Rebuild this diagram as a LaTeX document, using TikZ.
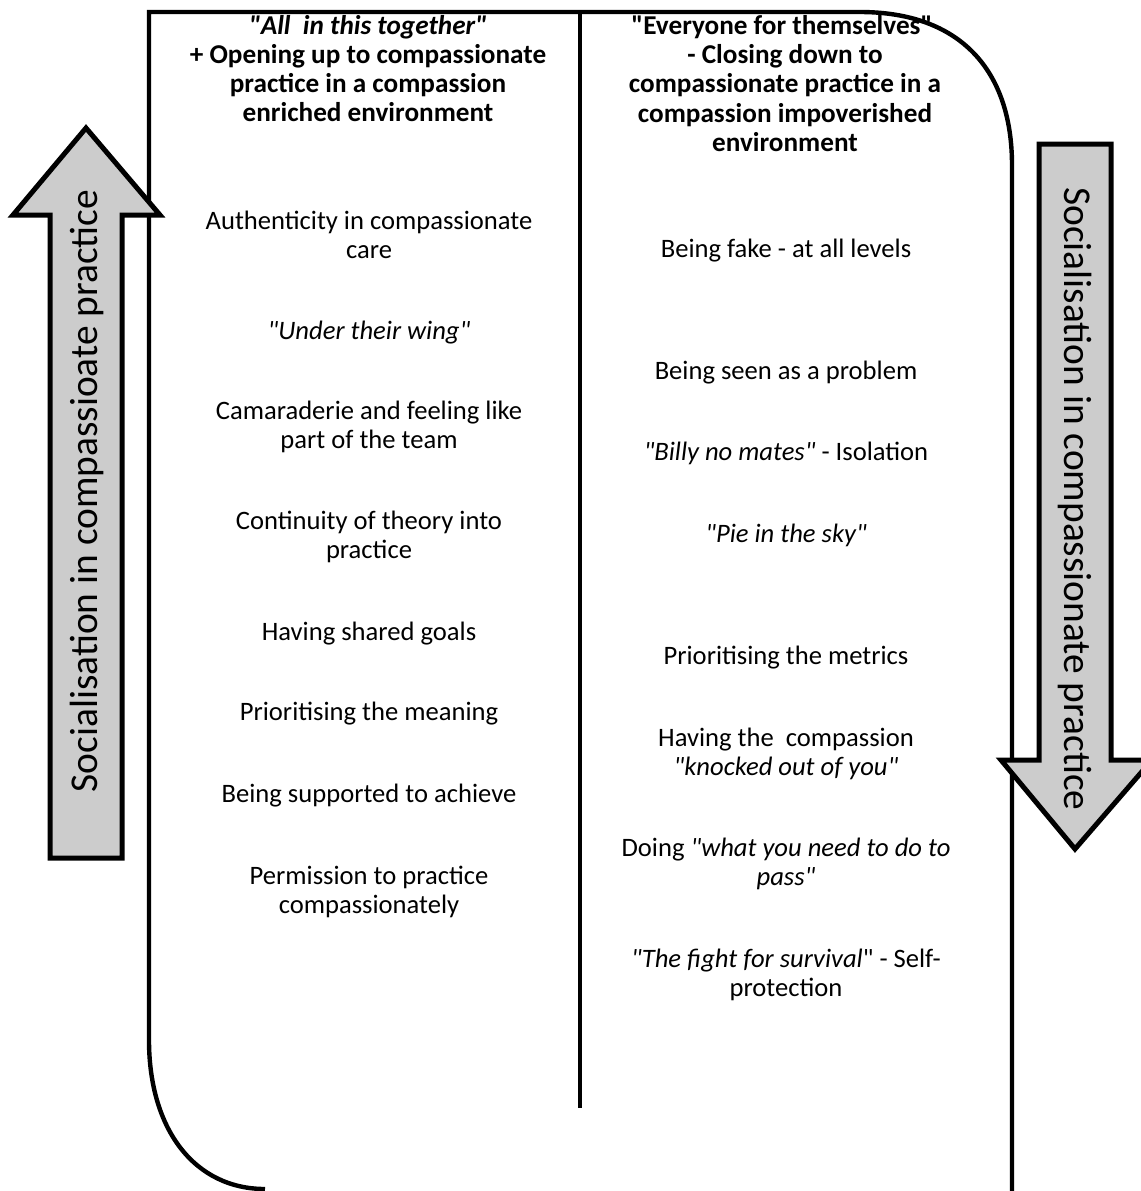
\documentclass[tikz,border=0pt]{standalone}
\usepackage{fontspec}
\setmainfont{Carlito}[Ligatures=TeXOff]
\usepackage{tikz}
\usetikzlibrary{positioning,calc}

\begin{document}
\begin{tikzpicture}[x=0.5pt, y=-0.5pt,
        item/.style={inner sep=0pt, font=\fontsize{13.3}{14.7}\selectfont, align=center},
        head/.style={item, font=\fontsize{13.6}{14.7}\selectfont\bfseries},
        side/.style={inner sep=0pt, font=\fontsize{19.7}{22}\selectfont},
        frame/.style={draw=black, line width=2.2pt},
        bigarrow/.style={draw=black, line width=2.5pt, fill=black!20, line join=miter},
      ]
      \useasboundingbox (0,0) rectangle (1141,1191);
      % outer frame and divider
      \draw [frame] (265,1189) .. controls (195,1189) and (149,1130) .. (149,1040) -- (149,12)
        -- (860,12) .. controls (960,12) and (1012,70) .. (1012,165) -- (1012,1195);
      \draw [frame] (580,12) -- (580,1108);
      % side arrows
      \draw [bigarrow] (50,858) -- (50,215) -- (13,215) -- (86,128) -- (160,215) -- (122,215) -- (122,858) -- cycle;
      \draw [bigarrow] (1039,144) -- (1111,144) -- (1111,760) -- (1152,760) -- (1075,849) -- (1001,760) -- (1039,760) -- cycle;
      \node [side, rotate=90] (upl) at (87,491) {Socialisation in compassioate practice};
      \node [side, rotate=-90] (downl) at (1075,499) {Socialisation in compassionate practice};
      % left column
      \node [head] (lhead) at (368,27) {\textit{"All\ \ in this together"}};
      \node [head] (lsub) at (368,83) {+ Opening up to compassionate\\practice in a compassion\\enriched environment};
      \node [item] (l1) at (369,235) {Authenticity in compassionate\\care};
      \node [item] (l2) at (369,333) {\textit{"Under their wing"}};
      \node [item] (l3) at (369,427) {Camaraderie and feeling like\\part of the team};
      \node [item] (l4) at (369,537) {Continuity of theory into\\practice};
      \node [item] (l5) at (369,634) {Having shared goals};
      \node [item] (l6) at (369,714) {Prioritising the meaning};
      \node [item] (l7) at (369,796) {Being supported to achieve};
      \node [item] (l8) at (369,892) {Permission to practice\\compassionately};
      % right column
      \node [head] (rhead) at (782,27) {"Everyone for themselves"};
      \node [head] (rsub) at (785,98) {- Closing down to\\compassionate practice in a\\compassion impoverished\\environment};
      \node [item] (r1) at (786,251) {Being fake - at all levels};
      \node [item] (r2) at (786,373) {Being seen as a problem};
      \node [item] (r3) at (786,453) {\textit{"Billy no mates"} - Isolation};
      \node [item] (r4) at (786,535) {\textit{"Pie in the sky"}};
      \node [item] (r5) at (786,658) {Prioritising the metrics};
      \node [item] (r6) at (786,754) {Having the\ \ compassion\\\textit{"knocked out of you"}};
      \node [item] (r7) at (786,864) {Doing \textit{"what you need to do to}\\\textit{pass"}};
      \node [item] (r8) at (786,975) {\textit{"The fight for survival}" - Self-\\protection};
    \end{tikzpicture}
\end{document}
